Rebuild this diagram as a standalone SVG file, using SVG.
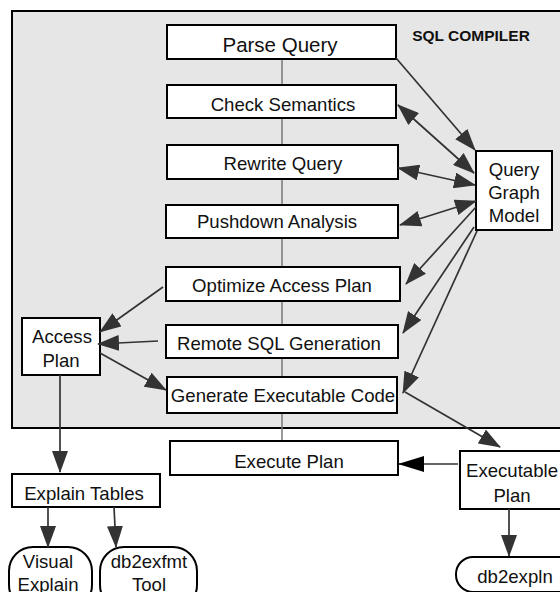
<svg xmlns="http://www.w3.org/2000/svg" width="560" height="592" viewBox="0 0 560 592">
  <style>
    text { font-family: "Liberation Sans", Arial, Helvetica, sans-serif; fill: #111; text-anchor: middle; }
    .lbl { font-size: 18.6px; }
    .box { fill: #fff; stroke: #000; stroke-width: 2; }
    .conn { fill: none; stroke: #333; stroke-width: 1.7; }
    .one { marker-end: url(#head); }
    .two { marker-start: url(#head); marker-end: url(#head); }
  </style>
  <defs>
    <marker id="head" viewBox="0 0 22 16" refX="21" refY="8" markerWidth="22" markerHeight="16" markerUnits="userSpaceOnUse" orient="auto-start-reverse">
      <path d="M0,0 L22,8 L0,16 z" fill="#333"/>
    </marker>
    <marker id="headBlack" viewBox="0 0 26 16" refX="25" refY="8" markerWidth="26" markerHeight="16" markerUnits="userSpaceOnUse" orient="auto">
      <path d="M0,0 L26,8 L0,16 z" fill="#000"/>
    </marker>
  </defs>

  <rect width="560" height="592" fill="#fff"/>

  <!-- compiler region -->
  <g id="sql-compiler">
    <rect x="12" y="11" width="552" height="417" fill="#e6e6e6" stroke="#000" stroke-width="2"/>
    <text x="471" y="41" style="font-size:15.5px;font-weight:bold">SQL COMPILER</text>
  </g>

  <!-- spine through the compiler stages -->
  <line x1="282" y1="59" x2="282" y2="441" stroke="#777" stroke-width="1.5"/>

  <g id="parse-query">
    <rect class="box" x="167" y="25" width="229" height="34"/>
    <text x="280" y="52" style="font-size:20.5px">Parse Query</text>
  </g>
  <g id="check-semantics">
    <rect class="box" x="167" y="85" width="229" height="33"/>
    <text class="lbl" x="283" y="111">Check Semantics</text>
  </g>
  <g id="rewrite-query">
    <rect class="box" x="167" y="145" width="231" height="34"/>
    <text class="lbl" x="283" y="170">Rewrite Query</text>
  </g>
  <g id="pushdown-analysis">
    <rect class="box" x="166" y="205" width="232" height="33"/>
    <text class="lbl" x="277" y="228">Pushdown Analysis</text>
  </g>
  <g id="optimize-access-plan">
    <rect class="box" x="166" y="267" width="234" height="34"/>
    <text class="lbl" x="282" y="292">Optimize Access Plan</text>
  </g>
  <g id="remote-sql-generation">
    <rect class="box" x="166" y="325" width="232" height="33"/>
    <text class="lbl" x="279" y="350">Remote SQL Generation</text>
  </g>
  <g id="generate-executable-code">
    <rect class="box" x="167" y="377" width="230" height="36"/>
    <text class="lbl" x="283" y="402">Generate Executable Code</text>
  </g>
  <g id="query-graph-model">
    <rect class="box" x="476" y="151" width="76" height="79"/>
    <text class="lbl" x="514" y="176">Query</text>
    <text class="lbl" x="514" y="199">Graph</text>
    <text class="lbl" x="514" y="222">Model</text>
  </g>
  <g id="access-plan">
    <rect class="box" x="22" y="318" width="78" height="57"/>
    <text class="lbl" x="62" y="343">Access</text>
    <text class="lbl" x="61" y="367">Plan</text>
  </g>

  <!-- runtime side -->
  <g id="execute-plan">
    <rect class="box" x="170" y="441" width="228" height="34"/>
    <text class="lbl" x="289" y="468">Execute Plan</text>
  </g>
  <g id="executable-plan">
    <rect class="box" x="460" y="451" width="110" height="58"/>
    <text class="lbl" x="512" y="477">Executable</text>
    <text class="lbl" x="512" y="502">Plan</text>
  </g>
  <g id="explain-tables">
    <rect class="box" x="12" y="474" width="148" height="33"/>
    <text class="lbl" x="84" y="500">Explain Tables</text>
  </g>
  <g id="visual-explain">
    <rect class="box" x="9" y="547" width="83" height="62" rx="24" ry="24"/>
    <text class="lbl" x="48" y="568">Visual</text>
    <text class="lbl" x="48" y="591">Explain</text>
  </g>
  <g id="db2exfmt-tool">
    <rect class="box" x="100" y="547" width="97" height="62" rx="24" ry="24"/>
    <text class="lbl" x="149" y="568">db2exfmt</text>
    <text class="lbl" x="149" y="591">Tool</text>
  </g>
  <g id="db2expln">
    <rect class="box" x="456" y="557" width="124" height="35" rx="17" ry="17"/>
    <text class="lbl" x="515" y="583">db2expln</text>
  </g>

  <g id="connectors">
    <line class="conn one" x1="396" y1="58" x2="475" y2="150"/>
    <line class="conn two" x1="398" y1="105" x2="474" y2="173"/>
    <line class="conn two" x1="398" y1="168" x2="475" y2="185"/>
    <line class="conn two" x1="400" y1="225" x2="476" y2="201"/>
    <line class="conn one" x1="476" y1="207" x2="406" y2="284"/>
    <line class="conn one" x1="474" y1="227" x2="403" y2="333"/>
    <line class="conn one" x1="477" y1="231" x2="403" y2="393"/>
    <line class="conn one" x1="405" y1="392" x2="500" y2="447"/>
    <line class="conn one" x1="163" y1="287" x2="100" y2="332"/>
    <line class="conn one" x1="158" y1="341" x2="98" y2="344"/>
    <line class="conn one" x1="100" y1="353" x2="166" y2="390"/>
    <line class="conn one" x1="60" y1="375" x2="60" y2="472"/>
    <line class="conn" x1="458" y1="464" x2="399" y2="464" stroke="#000" marker-end="url(#headBlack)"/>
    <line class="conn one" x1="509" y1="509" x2="509" y2="556"/>
    <line class="conn one" x1="48" y1="507" x2="48" y2="547"/>
    <line class="conn one" x1="114" y1="507" x2="116" y2="547"/>
  </g>
</svg>
